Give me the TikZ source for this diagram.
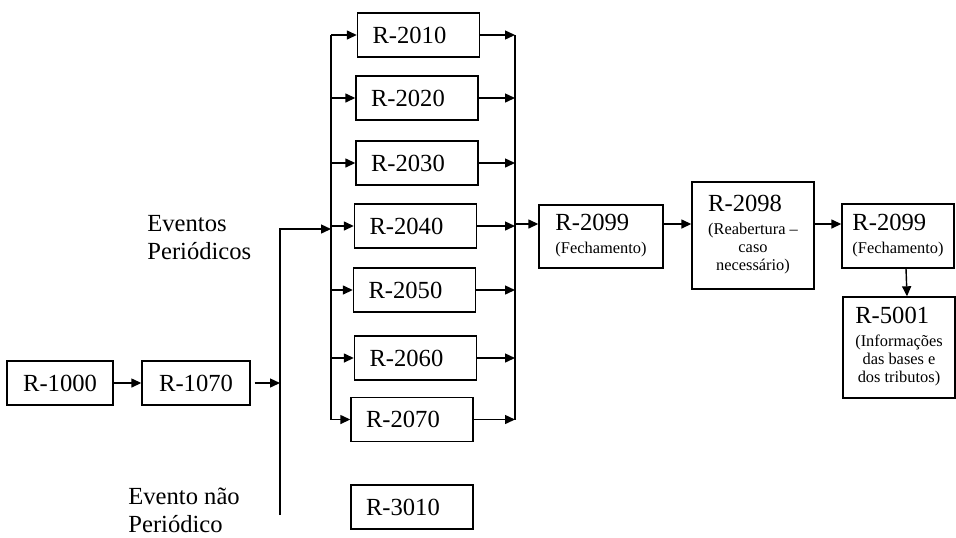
\documentclass[tikz,border=0pt]{standalone}
\usepackage{fontspec}
\setmainfont{Liberation Serif}
\usepackage{tikz}
\usetikzlibrary{arrows.meta,positioning}
\newcommand{\letraGrande}{\fontsize{12.3}{11.5}\selectfont}
\newcommand{\letraPequena}{\fontsize{8.2}{8.8}\selectfont}
\tikzstyle{caixa} =[draw, line width=0.7pt, inner sep=0pt,
                    minimum height=22pt, font=\letraGrande]
\tikzstyle{evento}=[caixa, text width=46pt, inner xsep=7.5pt,
                    align=left]
\tikzstyle{bloco} =[caixa, align=left]
\tikzstyle{rotulo}=[anchor=north west, inner sep=0pt, align=left,
                    font=\fontsize{12.3}{14}\selectfont]
\tikzstyle{seta}  =[-{Triangle[length=5pt,width=4.5pt]}, line width=0.7pt]
\tikzstyle{linha} =[line width=0.7pt]

\begin{document}
\begin{tikzpicture}[x=0.5pt, y=-0.5pt]
    \useasboundingbox (0,0) rectangle (956,537);

    \node (r1000) [caixa, minimum width=53pt] at (60,383) {R-1000};
    \node (r1070) [caixa, minimum width=54pt] at (196,383) {R-1070};

    \foreach \n/\x/\y in {2010/418.5/35, 2020/417/98, 2030/417/163,
                          2040/415.5/226, 2050/414.5/290, 2060/415.5/358,
                          2070/412/419.5, 3010/412/507}
        \node (r\n) [evento] at (\x,\y) {R-\n};

    \node (r2099a) [bloco, minimum width=62pt, minimum height=31.5pt] at (601,236.5)
        {R-2099\\\letraPequena\begin{tabular}[t]{@{}c@{}}(Fechamento)\end{tabular}};
    \node (r2098) [bloco, minimum width=61pt, minimum height=53.5pt] at (753,235.5)
        {R-2098\\\letraPequena\begin{tabular}[t]{@{}c@{}}(Reabertura –\\caso\\necessário)\end{tabular}};
    \node (r2099b) [bloco, minimum width=56pt, minimum height=32pt] at (898,236)
        {R-2099\\\letraPequena\begin{tabular}[t]{@{}c@{}}(Fechamento)\end{tabular}};
    \node (r5001) [bloco, minimum width=56pt, minimum height=50.5pt] at (899,347.5)
        {R-5001\\\letraPequena\begin{tabular}[t]{@{}c@{}}(Informações\\das bases e\\dos tributos)\end{tabular}};

    \node (periodicos) [rotulo] at (147,215) {Eventos\\Periódicos};
    \node (naoperiodico) [rotulo] at (128,488) {Evento não\\Periódico};

    % barramentos
    \coordinate (bus1top) at (280,229);
    \coordinate (bus1bot) at (280,515);
    \coordinate (lbus) at (331,0);
    \coordinate (rbus) at (515,0);
    \coordinate (eixo) at (0,224);

    \draw [seta] (r1000) -- (r1070);
    \draw [seta, shorten <=2pt] (r1070.east) -- (bus1top |- r1070.east);
    \draw [seta] (bus1bot) -- (bus1top) -- (lbus |- bus1top);
    \draw [linha] (lbus |- r2010.west) -- (lbus |- r2070.west);
    \draw [linha] (rbus |- r2010.east) -- (rbus |- r2070.east);

    \foreach \n in {2010,2020,2030,2040,2050,2060,2070} {
        \draw [seta] (lbus |- r\n.west) -- (r\n.west);
        \draw [seta] (r\n.east) -- (rbus |- r\n.east);
    }

    \draw [seta] (rbus |- eixo) -- (r2099a.west |- eixo);
    \draw [seta] (r2099a.east |- eixo) -- (r2098.west |- eixo);
    \draw [seta] (r2098.east |- eixo) -- (r2099b.west |- eixo);
    \draw [seta] ([xshift=4pt]r2099b.south) -- ([xshift=4pt]r5001.north);
\end{tikzpicture}
\end{document}
